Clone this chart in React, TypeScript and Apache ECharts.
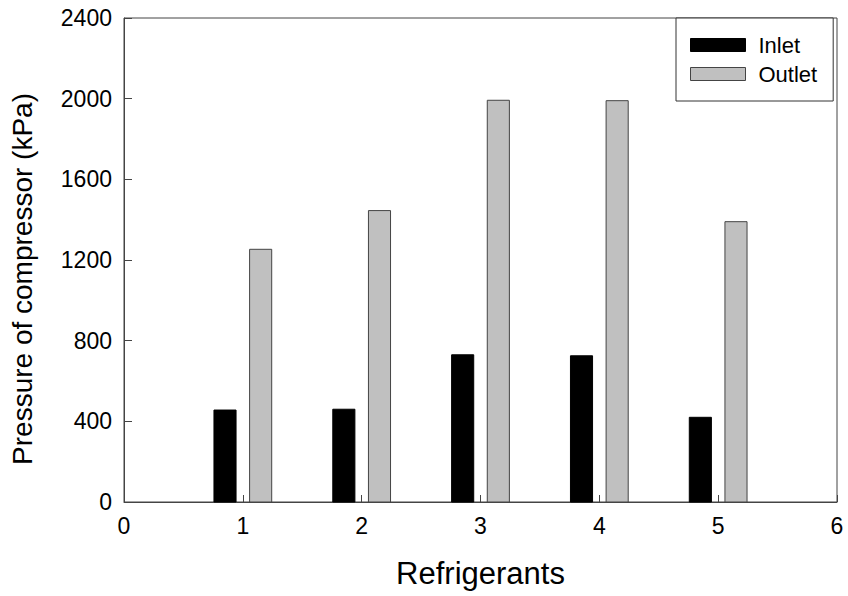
import React, { useEffect, useRef } from "react";
import * as echarts from "echarts";

const refrigerants = [1, 2, 3, 4, 5];
const inletPressure = [456, 460, 730, 725, 420];
const outletPressure = [1253, 1445, 1992, 1990, 1390];
const xTicks = [0, 1, 2, 3, 4, 5, 6];
const yTicks = [0, 400, 800, 1200, 1600, 2000, 2400];

const FONT = "'Liberation Sans', Arial, sans-serif";

function makeRender(offset: number, halfW: number, fill: string, stroke: string) {
  return (params: any, api: any) => {
    const x = api.value(0) as number;
    const y = api.value(1) as number;
    const p0 = api.coord([x + offset - halfW, y]);
    const p1 = api.coord([x + offset + halfW, 0]);
    return {
      type: "rect",
      shape: { x: p0[0], y: p0[1], width: p1[0] - p0[0], height: p1[1] - p0[1] },
      style: { fill, stroke, lineWidth: 1 },
    };
  };
}

export default function App() {
  const ref = useRef<HTMLDivElement>(null);
  useEffect(() => {
    if (!ref.current) return;
    const chart = echarts.init(ref.current, undefined, { renderer: "svg" });
    const halfW = 0.093;
    chart.setOption({
      animation: false,
      backgroundColor: "#fff",
      textStyle: { fontFamily: FONT },
      grid: {
        left: 124,
        top: 18,
        right: 11,
        bottom: 94,
        show: true,
        borderColor: "#444",
        borderWidth: 1,
      },
      legend: {
        left: 676,
        top: 18,
        orient: "vertical",
        backgroundColor: "#fff",
        borderColor: "#333",
        borderWidth: 1,
        padding: [16, 16, 16, 14],
        itemWidth: 55,
        itemHeight: 13,
        itemGap: 7,
        textStyle: { fontSize: 22, lineHeight: 22, color: "#000", fontFamily: FONT, padding: [0, 0, 0, 8] },
        data: [
          { name: "Inlet", icon: "rect", itemStyle: { color: "#000", borderColor: "#000", borderWidth: 1 } },
          { name: "Outlet", icon: "rect", itemStyle: { color: "#c0c0c0", borderColor: "#444", borderWidth: 1 } },
        ],
      },
      xAxis: {
        type: "value",
        min: xTicks[0],
        max: xTicks[xTicks.length - 1],
        interval: 1,
        name: "Refrigerants",
        nameLocation: "middle",
        nameGap: 56,
        nameTextStyle: { fontSize: 31, color: "#000", fontFamily: FONT },
        axisLine: { show: true, lineStyle: { color: "#444", width: 1 } },
        axisTick: { show: true, inside: true, length: 7, lineStyle: { color: "#444" } },
        axisLabel: { fontSize: 23, color: "#000", margin: 12, fontFamily: FONT, formatter: (v: number) => String(v) },
        splitLine: { show: false },
      },
      yAxis: {
        type: "value",
        min: yTicks[0],
        max: yTicks[yTicks.length - 1],
        interval: 400,
        name: "Pressure of compressor (kPa)",
        nameLocation: "middle",
        nameGap: 88,
        nameTextStyle: { fontSize: 28, color: "#000", fontFamily: FONT, padding: [0, 38, 0, 0] },
        axisLine: { show: true, lineStyle: { color: "#444", width: 1 } },
        axisTick: { show: true, inside: true, length: 8, lineStyle: { color: "#444" } },
        axisLabel: { fontSize: 23, color: "#000", margin: 12, fontFamily: FONT, formatter: (v: number) => String(v) },
        splitLine: { show: false },
      },
      series: [
        {
          name: "Inlet",
          type: "custom",
          itemStyle: { color: "#000" },
          renderItem: makeRender(-0.15, halfW, "#000", "#000"),
          encode: { x: 0, y: 1 },
          data: refrigerants.map((r, i) => [r, inletPressure[i]]),
          z: 3,
        },
        {
          name: "Outlet",
          type: "custom",
          itemStyle: { color: "#c0c0c0" },
          renderItem: makeRender(0.15, halfW, "#c0c0c0", "#444"),
          encode: { x: 0, y: 1 },
          data: refrigerants.map((r, i) => [r, outletPressure[i]]),
          z: 3,
        },
      ],
    });
    return () => chart.dispose();
  }, []);
  return <div ref={ref} style={{ width: 848, height: 596, position: "absolute", left: 0, top: 0 }} />;
}
